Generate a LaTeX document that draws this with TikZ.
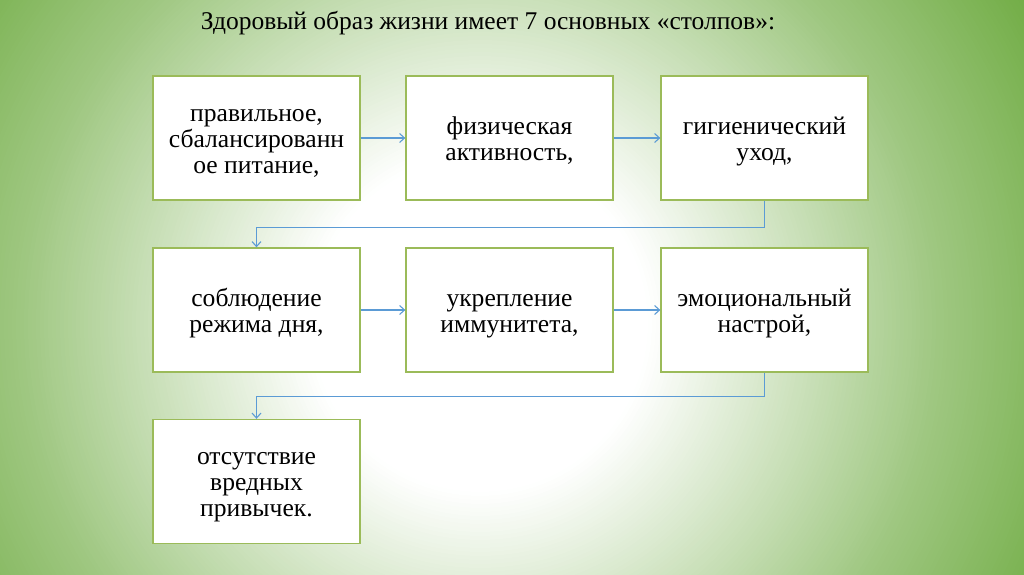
\documentclass[tikz,border=0pt]{standalone}
\usepackage{fontspec}
\setmainfont{Liberation Serif}
\usetikzlibrary{arrows.meta,calc}
\definecolor{bgGreen}{HTML}{72AD46}
\definecolor{boxBorder}{HTML}{9BBB59}
\definecolor{arrowBlue}{HTML}{5B9BD5}
\newcommand{\Ln}{\rule[-5.5pt]{0pt}{29.5pt}}
\newcommand{\PillarFont}{\fontsize{25.6}{25.8}\selectfont\lineskiplimit=-100pt\relax\lineskip=0pt\relax}
\begin{document}
\begin{tikzpicture}[x=1pt,y=1pt,
  pillar/.style={draw=boxBorder, line width=1.3pt, fill=white,
    minimum width=207pt, minimum height=124pt, inner sep=0pt,
    align=center, font=\PillarFont},
  link/.style={draw=arrowBlue, line width=1.1pt, -{Straight Barb[length=5pt,width=9pt]}}]
\useasboundingbox (0,0) rectangle (1024,574);
\begin{scope}
\clip (0,0) rectangle (1024,574);
\fill[bgGreen] (0,0) rectangle (1024,574);
\foreach \r in {700,696,...,168}{
  \pgfmathsetmacro{\p}{\r<320 ? max(0,(\r-170)/150*35) : (\r<460 ? 35+(\r-320)/140*33 : min(100,68+(\r-460)/180*32))}
  \fill[bgGreen!\p!white] (480,250) circle[radius=\r pt];
}
\end{scope}
\node[font=\fontsize{25.5}{28}\selectfont] (title) at (488,551) {Здоровый образ жизни имеет 7 основных «столпов»:};
\node[pillar] (b1) at (256.5,436) {\Ln правильное,\\\Ln сбалансированн\\\Ln ое питание,};
\node[pillar] (b2) at (509.5,436) {\Ln физическая\\\Ln активность,};
\node[pillar] (b3) at (764.5,436) {\Ln гигиенический\\\Ln уход,};
\node[pillar] (b4) at (256.5,264) {\Ln соблюдение\\\Ln режима дня,};
\node[pillar] (b5) at (509.5,264) {\Ln укрепление\\\Ln иммунитета,};
\node[pillar] (b6) at (764.5,264) {\Ln эмоциональный\\\Ln настрой,};
\node[pillar] (b7) at (256.5,92.5) {\Ln отсутствие\\\Ln вредных\\\Ln привычек.};
\draw[link] (b1) -- (b2);
\draw[link] (b2) -- (b3);
\draw[link] (b4) -- (b5);
\draw[link] (b5) -- (b6);
\coordinate (k1) at ($(b4.north)+(0,20)$);
\coordinate (k2) at ($(b7.north)+(0,22)$);
\draw[link] (b3.south) |- (k1) -- (b4.north);
\draw[link] (b6.south) |- (k2) -- (b7.north);
\end{tikzpicture}
\end{document}
